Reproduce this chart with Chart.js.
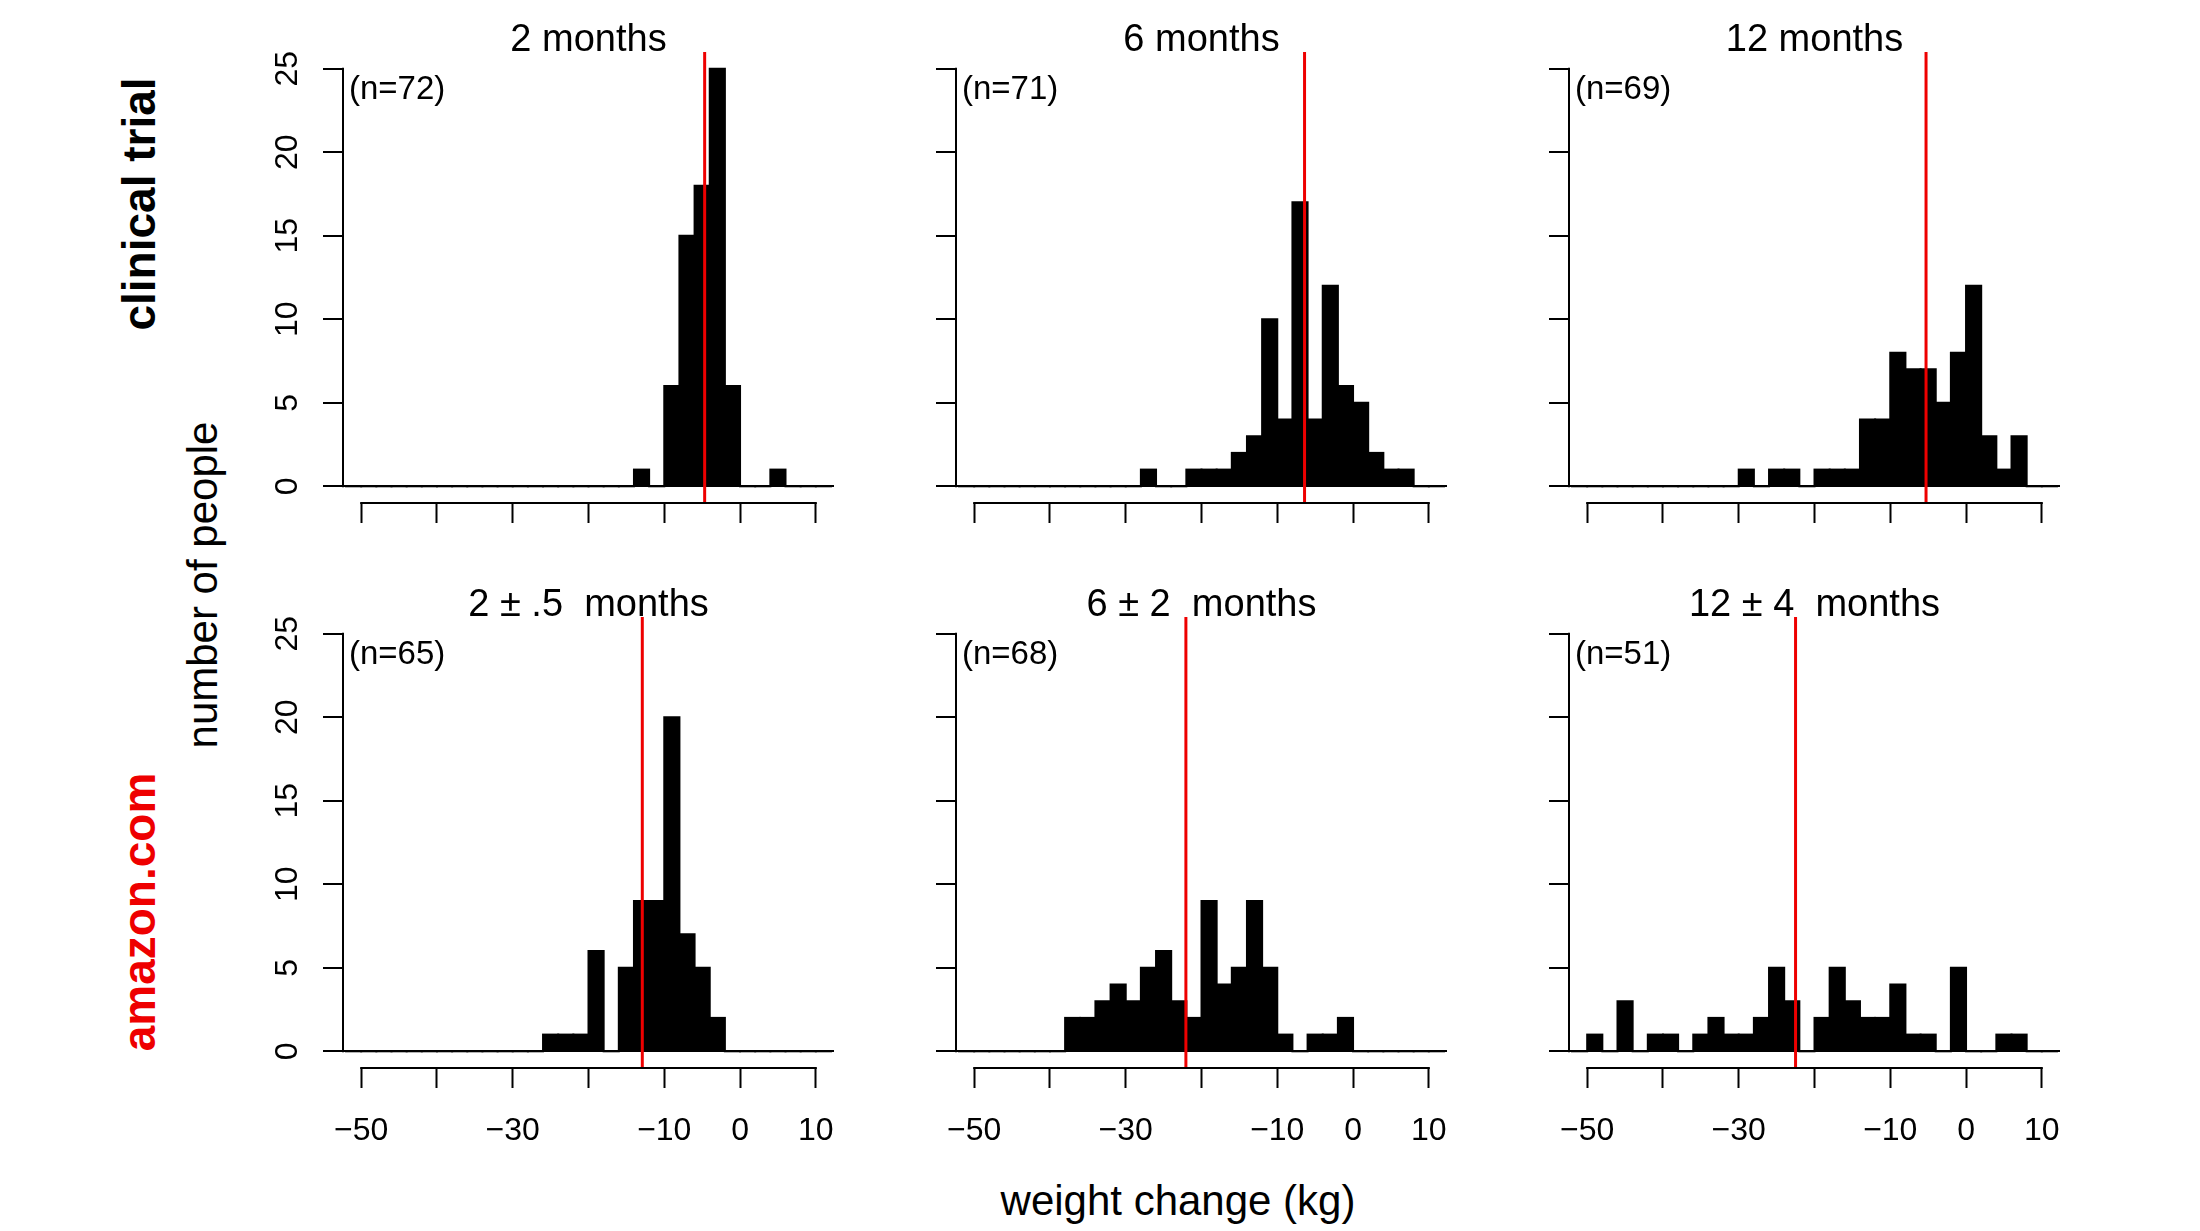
<!DOCTYPE html>
<html>
<head>
<meta charset="utf-8">
<script src="https://cdn.jsdelivr.net/npm/chart.js@4.4.1/dist/chart.umd.min.js"></script>
<style>
html, body { margin: 0; padding: 0; background: #fff; }
#page { position: relative; width: 2200px; height: 1231px; overflow: hidden; background: #fff;
        font-family: "Liberation Sans", Arial, Helvetica, sans-serif; color: #000; }
canvas.panel { position: absolute; }
.txt { position: absolute; white-space: pre; line-height: 1; }
</style>
</head>
<body>
<div id="page"></div>
<script>
// ---------------- data ----------------
const BIN_WIDTH = 2;
const BIN_LEFT = [-52,-50,-48,-46,-44,-42,-40,-38,-36,-34,-32,-30,-28,-26,-24,-22,
                  -20,-18,-16,-14,-12,-10,-8,-6,-4,-2,0,2,4,6,8,10];
//                      -52 -50 -48 -46 -44 -42 -40 -38 -36 -34 -32 -30 -28 -26 -24 -22 -20 -18 -16 -14 -12 -10 -8 -6 -4 -2  0  2  4  6  8 10
const COUNTS_TRIAL_2M  = [0,  0,  0,  0,  0,  0,  0,  0,  0,  0,  0,  0,  0,  0,  0,  0,  0,  0,  0,  1,  0,  6, 15,18,25, 6, 0, 0, 1, 0, 0, 0];
const COUNTS_TRIAL_6M  = [0,  0,  0,  0,  0,  0,  0,  0,  0,  0,  0,  0,  1,  0,  0,  1,  1,  1,  2,  3, 10,  4, 17, 4,12, 6, 5, 2, 1, 1, 0, 0];
const COUNTS_TRIAL_12M = [0,  0,  0,  0,  0,  0,  0,  0,  0,  0,  0,  1,  0,  1,  1,  0,  1,  1,  1,  4,  4,  8,  7, 7, 5, 8,12, 3, 1, 3, 0, 0];
const COUNTS_AMZ_2M    = [0,  0,  0,  0,  0,  0,  0,  0,  0,  0,  0,  0,  0,  1,  1,  1,  6,  0,  5,  9,  9, 20,  7, 5, 2, 0, 0, 0, 0, 0, 0, 0];
const COUNTS_AMZ_6M    = [0,  0,  0,  0,  0,  0,  0,  2,  2,  3,  4,  3,  5,  6,  3,  2,  9,  4,  5,  9,  5,  1,  0, 1, 1, 2, 0, 0, 0, 0, 0, 0];
const COUNTS_AMZ_12M   = [0,  1,  0,  3,  0,  1,  1,  0,  1,  2,  1,  1,  2,  5,  3,  0,  2,  5,  3,  2,  2,  4,  1, 1, 0, 5, 0, 0, 1, 1, 0, 0];

const MEAN_LINE   = [-4.67, -6.40, -5.28, -12.9, -22.06, -22.5];
const PANEL_TITLES = ['2 months', '6 months', '12 months',
                      '2 \u00B1 .5  months', '6 \u00B1 2  months', '12 \u00B1 4  months'];
const N_LABELS    = ['(n=72)', '(n=71)', '(n=69)', '(n=65)', '(n=68)', '(n=51)'];
const ROW_LABELS  = ['clinical trial', 'amazon.com'];
const X_TICKS       = [-50, -40, -30, -20, -10, 0, 10];
const X_TICK_LABELS = ['\u221250', '', '\u221230', '', '\u221210', '0', '10'];
const Y_TICKS       = [0, 5, 10, 15, 20, 25];
const X_RANGE = [-52.4, 12.4];
const Y_RANGE = [-1, 26];
const X_TITLE = 'weight change (kg)';
const Y_TITLE = 'number of people';

const ALL_COUNTS = [COUNTS_TRIAL_2M, COUNTS_TRIAL_6M, COUNTS_TRIAL_12M,
                    COUNTS_AMZ_2M, COUNTS_AMZ_6M, COUNTS_AMZ_12M];

// ---------------- layout ----------------
const FONT = '"Liberation Sans", Arial, Helvetica, sans-serif';
const RED = '#ee0000';
const COL_LEFT = [343, 956, 1569];
const ROW_TOP  = [52, 617];
const PLOT_W = 491, PLOT_H = 451;
const Y_AXIS_W = 110, X_AXIS_H = 90, PAD_T = 4, PAD_R = 6;

const page = document.getElementById('page');

function addText(str, css) {
  const d = document.createElement('div');
  d.className = 'txt';
  d.textContent = str;
  Object.assign(d.style, css);
  page.appendChild(d);
  return d;
}

// R-style axis lines: drawn only from first to last tick
const rStyleAxes = {
  id: 'rStyleAxes',
  afterDraw(chart) {
    const { ctx, chartArea, scales: { x, y } } = chart;
    const xt = x.ticks, yt = y.ticks;
    ctx.save();
    ctx.strokeStyle = '#000';
    ctx.lineWidth = 2;
    ctx.beginPath();
    const yb = chartArea.bottom;
    ctx.moveTo(x.getPixelForValue(xt[0].value) - 1, yb);
    ctx.lineTo(x.getPixelForValue(xt[xt.length - 1].value) + 1, yb);
    const xl = chartArea.left;
    ctx.moveTo(xl, y.getPixelForValue(yt[0].value) + 1);
    ctx.lineTo(xl, y.getPixelForValue(yt[yt.length - 1].value) - 1);
    ctx.stroke();
    ctx.restore();
  }
};

for (let i = 0; i < 6; i++) {
  const r = Math.floor(i / 3), c = i % 3;
  const cv = document.createElement('canvas');
  cv.className = 'panel';
  const w = Y_AXIS_W + PLOT_W + PAD_R, h = PAD_T + PLOT_H + X_AXIS_H;
  cv.width = w; cv.height = h;
  cv.style.left = (COL_LEFT[c] - Y_AXIS_W) + 'px';
  cv.style.top = (ROW_TOP[r] - PAD_T) + 'px';
  cv.style.width = w + 'px'; cv.style.height = h + 'px';
  page.appendChild(cv);

  const counts = ALL_COUNTS[i];
  const barData = BIN_LEFT.map((l, k) => ({ x: l + BIN_WIDTH / 2, y: counts[k] }));
  const meanData = [{ x: MEAN_LINE[i], y: Y_RANGE[0] }, { x: MEAN_LINE[i], y: Y_RANGE[1] }];

  new Chart(cv, {
    data: {
      datasets: [
        { type: 'line', data: meanData, borderColor: RED, borderWidth: 3,
          pointRadius: 0, fill: false, order: 0, clip: false },
        { type: 'bar', data: barData, backgroundColor: '#000', borderWidth: 0,
          inflateAmount: 1, barPercentage: 1, categoryPercentage: 1, order: 1 }
      ]
    },
    options: {
      responsive: false, animation: false, devicePixelRatio: 1,
      layout: { padding: { left: 0, top: PAD_T, right: PAD_R, bottom: 0 } },
      plugins: { legend: { display: false }, tooltip: { enabled: false }, title: { display: false } },
      events: [],
      scales: {
        x: {
          type: 'linear', min: X_RANGE[0], max: X_RANGE[1], offset: false,
          afterBuildTicks: s => { s.ticks = X_TICKS.map(v => ({ value: v })); },
          afterFit: s => { s.height = X_AXIS_H; s.paddingLeft = 0; s.paddingRight = 0; },
          border: { display: false },
          grid: { offset: false, drawOnChartArea: false, drawTicks: true, tickLength: 20,
                  tickWidth: 2, tickColor: '#000' },
          ticks: {
            display: r === 1, autoSkip: false, minRotation: 0, maxRotation: 0, padding: 24,
            color: '#000', font: { family: FONT, size: 32 },
            callback: v => X_TICK_LABELS[X_TICKS.indexOf(v)]
          }
        },
        y: {
          type: 'linear', min: Y_RANGE[0], max: Y_RANGE[1],
          afterBuildTicks: s => { s.ticks = Y_TICKS.map(v => ({ value: v })); },
          afterFit: s => { s.width = Y_AXIS_W; s.paddingTop = 0; s.paddingBottom = 0; },
          border: { display: false },
          grid: {
            drawOnChartArea: true, drawTicks: true, tickLength: 20, tickWidth: 2, tickColor: '#000',
            lineWidth: 2,
            color: ctx => (ctx.tick && ctx.tick.value === 0) ? '#000' : 'rgba(0,0,0,0)'
          },
          ticks: {
            display: c === 0,
            minRotation: 90, maxRotation: 90, crossAlign: 'center', padding: 17,
            color: '#000', font: { family: FONT, size: 32 },
            callback: v => String(v)
          }
        }
      }
    },
    plugins: [rStyleAxes]
  });

  // panel title (baseline just at top of plot region)
  const cx = COL_LEFT[c] + PLOT_W / 2;
  const tSize = 38;
  addText(PANEL_TITLES[i], {
    left: cx + 'px', top: (ROW_TOP[r] - 0.5 - 0.8465 * tSize) + 'px',
    fontSize: tSize + 'px', transform: 'translateX(-50%)'
  });
  // sample size label
  const nSize = 33;
  addText(N_LABELS[i], {
    left: (COL_LEFT[c] + 6) + 'px', top: (ROW_TOP[r] + 47 - 0.8465 * nSize) + 'px',
    fontSize: nSize + 'px'
  });
}

// row labels
addText(ROW_LABELS[0], {
  left: '139px', top: '204px', fontSize: '46px', fontWeight: 'bold', color: '#000',
  transform: 'translate(-50%,-50%) rotate(-90deg)'
});
addText(ROW_LABELS[1], {
  left: '139px', top: '912px', fontSize: '46px', fontWeight: 'bold', color: RED,
  transform: 'translate(-50%,-50%) rotate(-90deg)'
});
// axis titles
addText(Y_TITLE, {
  left: '203px', top: '585px', fontSize: '42px',
  transform: 'translate(-50%,-50%) rotate(-90deg)'
});
addText(X_TITLE, {
  left: '1178px', top: (1216 - 0.8465 * 42) + 'px', fontSize: '42px',
  transform: 'translateX(-50%)'
});
</script>
</body>
</html>
